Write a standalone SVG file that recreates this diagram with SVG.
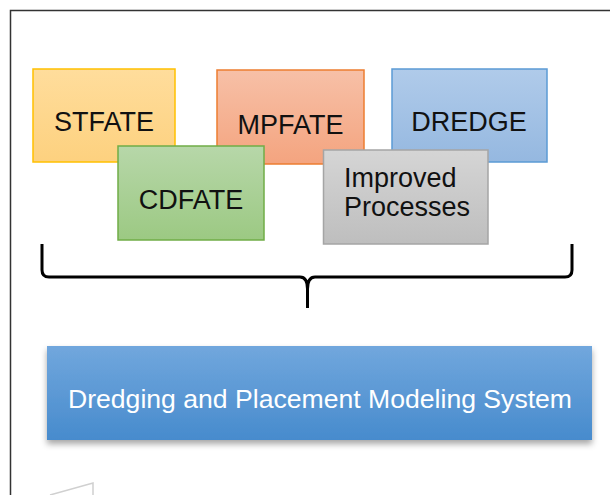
<svg xmlns="http://www.w3.org/2000/svg" width="610" height="495" viewBox="0 0 610 495">
<defs>
<linearGradient id="gY" x1="0" y1="0" x2="0" y2="1"><stop offset="0" stop-color="#FFDD9C"/><stop offset="1" stop-color="#FDD17F"/></linearGradient>
<linearGradient id="gO" x1="0" y1="0" x2="0" y2="1"><stop offset="0" stop-color="#F7C0A7"/><stop offset="1" stop-color="#F4A47F"/></linearGradient>
<linearGradient id="gB" x1="0" y1="0" x2="0" y2="1"><stop offset="0" stop-color="#B0CBEA"/><stop offset="1" stop-color="#95B8E0"/></linearGradient>
<linearGradient id="gG" x1="0" y1="0" x2="0" y2="1"><stop offset="0" stop-color="#B7D7A9"/><stop offset="1" stop-color="#9CC983"/></linearGradient>
<linearGradient id="gS" x1="0" y1="0" x2="0" y2="1"><stop offset="0" stop-color="#D5D5D5"/><stop offset="1" stop-color="#BEBEBE"/></linearGradient>
<linearGradient id="gM" x1="0" y1="0" x2="0" y2="1"><stop offset="0" stop-color="#71A7DD"/><stop offset="1" stop-color="#478BCD"/></linearGradient>
<filter id="sh" x="-5%" y="-20%" width="110%" height="150%"><feDropShadow dx="0" dy="4" stdDeviation="3" flood-color="#000" flood-opacity="0.35"/></filter>
</defs>
<style>
.lbl{font-family:"Liberation Sans",Arial,sans-serif;font-size:27px;fill:#111;}
.box{stroke-width:1.5;}
.brace{fill:none;stroke:#000;stroke-width:3;stroke-linejoin:round;stroke-linecap:butt;}
</style>
<rect x="0" y="0" width="610" height="495" fill="#fff"/>
<path d="M10.5,495 V10.5 H610" fill="none" stroke="#333" stroke-width="1.5"/>
<g id="stfate"><rect class="box" x="33" y="69" width="142" height="93" fill="url(#gY)" stroke="#FFC000"/><text class="lbl" x="104" y="130.5" text-anchor="middle">STFATE</text></g>
<g id="mpfate"><rect class="box" x="217" y="70" width="147" height="94" fill="url(#gO)" stroke="#ED7D31"/><text class="lbl" x="290.5" y="133.5" text-anchor="middle">MPFATE</text></g>
<g id="dredge"><rect class="box" x="392" y="69" width="155" height="93" fill="url(#gB)" stroke="#5B9BD5"/><text class="lbl" x="469" y="130.5" text-anchor="middle">DREDGE</text></g>
<g id="cdfate"><rect class="box" x="118" y="146" width="146" height="94" fill="url(#gG)" stroke="#70AD47"/><text class="lbl" x="191" y="208.5" text-anchor="middle">CDFATE</text></g>
<g id="improved"><rect class="box" x="323.5" y="150" width="164.5" height="94" fill="url(#gS)" stroke="#A5A5A5"/><text class="lbl" x="344" y="186.5">Improved</text><text class="lbl" x="344" y="216">Processes</text></g>
<g id="connectors">
<path class="brace" d="M42,244 V270 Q42,277 49,277 H300 Q307.5,277 307.5,289 V308 M307.5,289 Q307.5,277 315,277 H565 Q572,277 572,270 V244"/>
</g>
<g id="dpms"><rect x="47" y="346" width="545" height="94" fill="url(#gM)" filter="url(#sh)"/><text x="320" y="407.5" text-anchor="middle" font-family="'Liberation Sans',Arial,sans-serif" font-size="26.6" fill="#fff">Dredging and Placement Modeling System</text></g>
<path d="M50,495 L93,483 V495" fill="none" stroke="#d0d0d0" stroke-width="1.5"/>
</svg>
